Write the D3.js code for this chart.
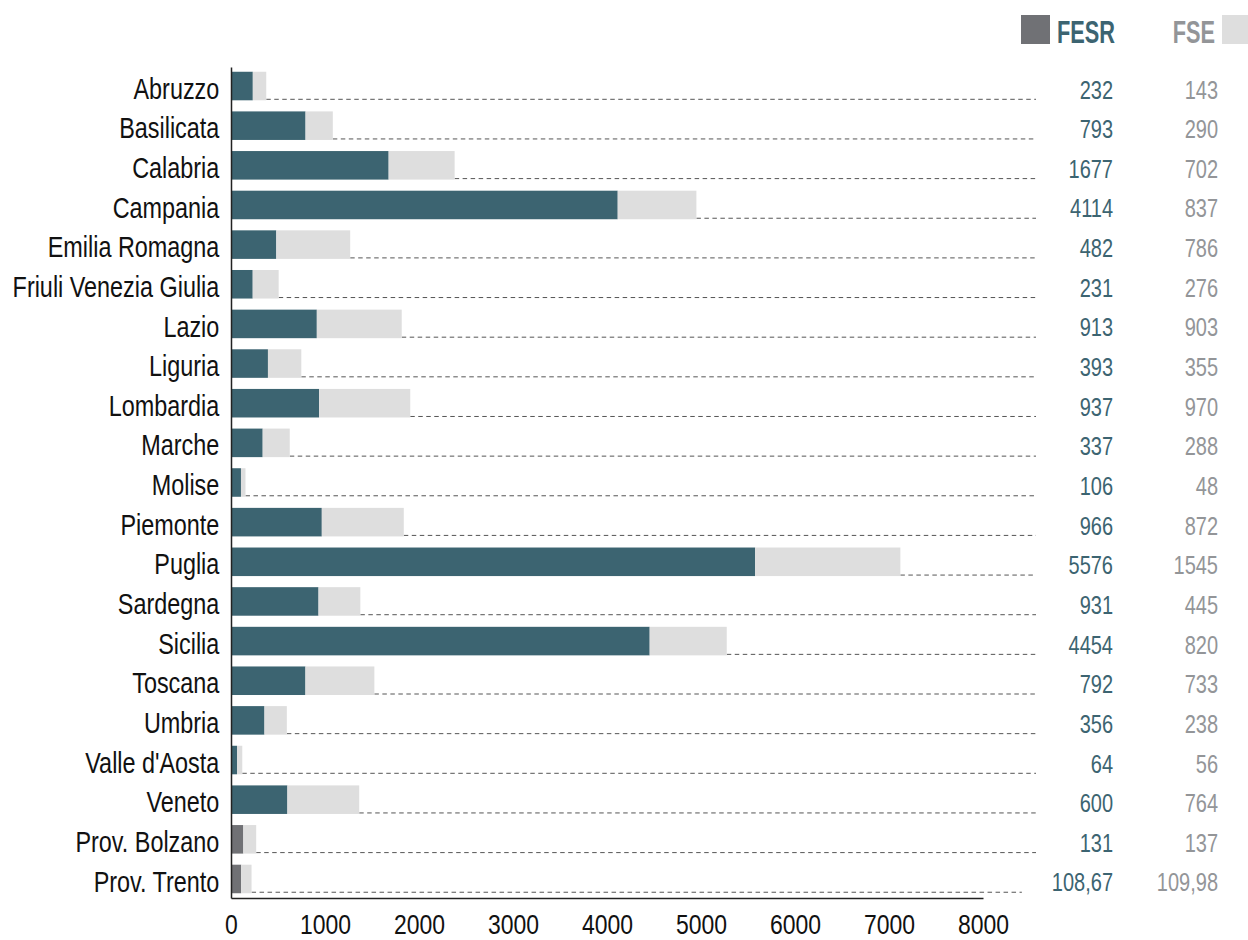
<!DOCTYPE html>
<html>
<head>
<meta charset="utf-8">
<script src="https://cdn.jsdelivr.net/npm/d3@7"></script>
<style>
  body { margin: 0; background: #fff; }
  svg text { font-family: "Liberation Sans", Arial, sans-serif; }
</style>
</head>
<body>
<div id="chart"></div>
<script>
const width = 1248,
  height = 940,
  margin = { top: 67, bottom: 42, left: 231, right: 265 };

const regions = ["Abruzzo", "Basilicata", "Calabria", "Campania", "Emilia Romagna",
  "Friuli Venezia Giulia", "Lazio", "Liguria", "Lombardia", "Marche", "Molise",
  "Piemonte", "Puglia", "Sardegna", "Sicilia", "Toscana", "Umbria",
  "Valle d'Aosta", "Veneto", "Prov. Bolzano", "Prov. Trento"];
const fesr = [232, 793, 1677, 4114, 482, 231, 913, 393, 937, 337, 106,
  966, 5576, 931, 4454, 792, 356, 64, 600, 131, 108.67];
const fse = [143, 290, 702, 837, 786, 276, 903, 355, 970, 288, 48,
  872, 1545, 445, 820, 733, 238, 56, 764, 137, 109.98];
const provinces = ["Prov. Bolzano", "Prov. Trento"];
const xTicks = [0, 1000, 2000, 3000, 4000, 5000, 6000, 7000, 8000];

const colors = { fesr: "#3c6471", prov: "#707175", fse: "#dedede", fseText: "#939598" };

const data = regions.map((r, i) => ({ region: r, fesr: fesr[i], fse: fse[i] }));

const itFormat = d3.formatLocale({ decimal: ",", thousands: "", grouping: [3], currency: ["", "€"] });
const fmt = v => Number.isInteger(v) ? String(v) : itFormat.format(".2f")(v);

// no condensed font installed, so squeeze a regular sans horizontally
const squeeze = 0.8;

const svg = d3.select("#chart").append("svg")
  .attr("width", width)
  .attr("height", height);

const xScale = d3.scaleLinear()
  .domain([0, 8000])
  .range([margin.left, width - margin.right]);

const yScale = d3.scaleBand()
  .domain(regions)
  .range([margin.top, height - margin.bottom])
  .paddingInner(0.28)
  .paddingOuter(0.12);

const rowMid = d => yScale(d.region) + yScale.bandwidth() / 2;

// value columns
const fesrCol = 1113, fseCol = 1218;

const fesrLabels = svg.append("g")
  .selectAll("text")
  .data(data)
  .join("text")
  .attr("transform", d => `translate(${fesrCol},${rowMid(d)}) scale(${squeeze},1)`)
  .attr("dy", "0.5em")
  .attr("text-anchor", "end")
  .attr("font-size", 25)
  .attr("fill", colors.fesr)
  .text(d => fmt(d.fesr));

svg.append("g")
  .selectAll("text")
  .data(data)
  .join("text")
  .attr("transform", d => `translate(${fseCol},${rowMid(d)}) scale(${squeeze},1)`)
  .attr("dy", "0.5em")
  .attr("text-anchor", "end")
  .attr("font-size", 25)
  .attr("fill", colors.fseText)
  .text(d => fmt(d.fse));

// dashed leader lines, stop short of the value label
const labelStart = fesrLabels.nodes().map(n => fesrCol - n.getBBox().width * squeeze);
svg.append("g")
  .selectAll("line")
  .data(data)
  .join("line")
  .attr("x1", d => xScale(d.fesr + d.fse))
  .attr("x2", (d, i) => Math.min(1036, labelStart[i] - 30))
  .attr("y1", d => yScale(d.region) + yScale.bandwidth() - 1)
  .attr("y2", d => yScale(d.region) + yScale.bandwidth() - 1)
  .attr("stroke", "#555")
  .attr("stroke-width", 1)
  .attr("stroke-dasharray", "4.5,3.5");

// bars
svg.append("g")
  .selectAll("rect")
  .data(data)
  .join("rect")
  .attr("x", xScale(0))
  .attr("y", d => yScale(d.region))
  .attr("width", d => xScale(d.fesr) - xScale(0))
  .attr("height", yScale.bandwidth())
  .attr("fill", d => provinces.includes(d.region) ? colors.prov : colors.fesr);

svg.append("g")
  .selectAll("rect")
  .data(data)
  .join("rect")
  .attr("x", d => xScale(d.fesr))
  .attr("y", d => yScale(d.region))
  .attr("width", d => xScale(d.fesr + d.fse) - xScale(d.fesr))
  .attr("height", yScale.bandwidth())
  .attr("fill", colors.fse);

// axes
const xAxis = svg.append("g")
  .attr("transform", `translate(0,${height - margin.bottom})`)
  .call(d3.axisBottom(xScale).tickValues(xTicks).tickFormat(d3.format("d")).tickSize(0).tickPadding(16));
xAxis.select(".domain").attr("stroke", "#222").attr("stroke-width", 1.5);
xAxis.selectAll("text")
  .attr("font-size", 28)
  .attr("fill", "#111")
  .attr("transform", `scale(0.82,1)`);

const yAxis = svg.append("g")
  .attr("transform", `translate(${margin.left},0)`)
  .call(d3.axisLeft(yScale).tickSize(0).tickPadding(15));
yAxis.select(".domain").attr("stroke", "#222").attr("stroke-width", 1.5);
yAxis.selectAll("text")
  .attr("font-size", 30)
  .attr("fill", "#111")
  .attr("dy", "0.42em")
  .attr("transform", `scale(0.78,1)`);
svg.selectAll("g").attr("font-family", null);

// legend
const legend = svg.append("g");
legend.append("rect")
  .attr("x", 1021).attr("y", 15).attr("width", 29).attr("height", 29)
  .attr("fill", colors.prov);
legend.append("text")
  .attr("transform", `translate(1057,43) scale(0.68,1)`)
  .attr("font-size", 32).attr("font-weight", "bold")
  .attr("fill", colors.fesr)
  .text("FESR");
legend.append("text")
  .attr("transform", `translate(1215,43) scale(0.68,1)`)
  .attr("text-anchor", "end")
  .attr("font-size", 32).attr("font-weight", "bold")
  .attr("fill", colors.fseText)
  .text("FSE");
legend.append("rect")
  .attr("x", 1222).attr("y", 15).attr("width", 29).attr("height", 29)
  .attr("fill", colors.fse);
</script>
</body>
</html>
